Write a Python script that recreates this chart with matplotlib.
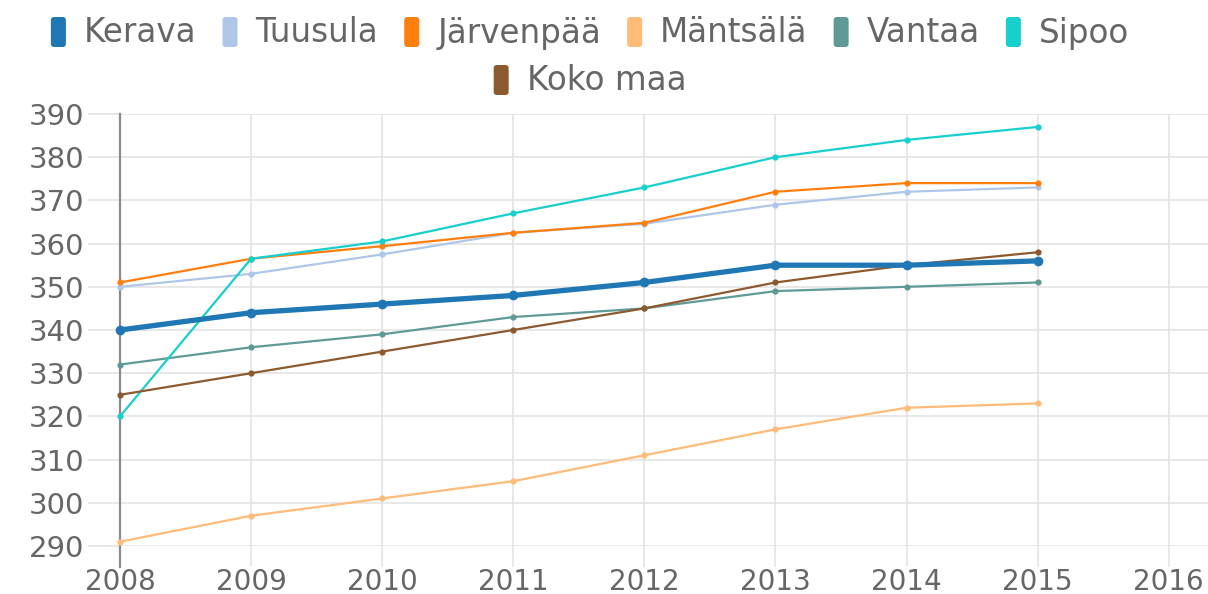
import matplotlib
matplotlib.use("Agg")
import matplotlib.pyplot as plt
from matplotlib.patches import FancyBboxPatch
import matplotlib.transforms as mtransforms

years = [2008, 2009, 2010, 2011, 2012, 2013, 2014, 2015]
x_ticks = [2008, 2009, 2010, 2011, 2012, 2013, 2014, 2015, 2016]
y_ticks = [290, 300, 310, 320, 330, 340, 350, 360, 370, 380, 390]

kerava = [340, 344, 346, 348, 351, 355, 355, 356]
tuusula = [350, 353, 357.5, 362.5, 364.6, 369, 372, 373]
jarvenpaa = [351, 356.5, 359.4, 362.5, 364.8, 372, 374, 374]
mantsala = [291, 297, 301, 305, 311, 317, 322, 323]
vantaa = [332, 336, 339, 343, 345, 349, 350, 351]
sipoo = [320, 356.5, 360.5, 367, 373, 380, 384, 387]
koko_maa = [325, 330, 335, 340, 345, 351, 355, 358]

names = ["Kerava", "Tuusula", "Järvenpää", "Mäntsälä", "Vantaa", "Sipoo", "Koko maa"]
series = [kerava, tuusula, jarvenpaa, mantsala, vantaa, sipoo, koko_maa]
colors = ["#1f77b4", "#aec7e8", "#ff7f0e", "#ffbb78", "#5f9a96", "#17cfcc", "#8c5a2e"]

W, H = 1208, 594
fig = plt.figure(figsize=(W / 100, H / 100), dpi=100)
ax = fig.add_axes([120 / W, 48 / H, (W - 120) / W, (546 - 114) / H])

ax.set_xlim(2008, 2016.3)
ax.set_ylim(290, 390)

# draw lines (Kerava on top)
order = [6, 5, 4, 3, 1, 2, 0]
for i in order:
    thick = (i == 0)
    ax.plot(years, series[i], color=colors[i],
            lw=3.8 if thick else 1.6,
            marker="o", markersize=7 if thick else 4.5,
            markeredgewidth=0, clip_on=False,
            zorder=10 if thick else 3 + i * 0.1,
            solid_joinstyle="round", solid_capstyle="round")

ax.set_xticks(x_ticks)
ax.set_yticks(y_ticks)
ax.grid(True, color="#e2e2e2", lw=1.1, zorder=0)
for s in ["top", "right", "bottom"]:
    ax.spines[s].set_visible(False)
ax.spines["left"].set_color("#8a8a8a")
ax.spines["left"].set_linewidth(1.6)
ax.spines["left"].set_zorder(2)
ax.spines["left"].set_bounds(285.2, 390)
ax.tick_params(axis="y", length=23, width=1.1, color="#e2e2e2", pad=3,
               labelsize=21, labelcolor="#666666")
ax.tick_params(axis="x", length=15, width=1.1, color="#e2e2e2", pad=1,
               labelsize=20, labelcolor="#666666")

# custom centred legend
renderer = fig.canvas.get_renderer()
font_size = 23.5
box_w, box_h = 15, 30
gap_text = 18
gap_item = 26
center_x = 590
rows = [(list(range(6)), 562), ([6], 514)]
for idxs, yc in rows:
    widths = []
    texts = []
    for i in idxs:
        t = fig.text(0, 0, names[i], fontsize=font_size, color="#666666",
                     va="center", ha="left")
        w = t.get_window_extent(renderer).width
        widths.append(w)
        texts.append(t)
    total = sum(box_w + gap_text + w for w in widths) + gap_item * (len(idxs) - 1)
    x = center_x - total / 2
    for i, t, w in zip(idxs, texts, widths):
        p = FancyBboxPatch((x, yc - box_h / 2), box_w, box_h,
                           boxstyle="round,pad=0,rounding_size=3",
                           transform=mtransforms.IdentityTransform(),
                           facecolor=colors[i], edgecolor="none")
        fig.patches.append(p)
        t.set_position(((x + box_w + gap_text) / W, (yc - 1) / H))
        x += box_w + gap_text + w + gap_item

fig.savefig("out.png", dpi=100)
